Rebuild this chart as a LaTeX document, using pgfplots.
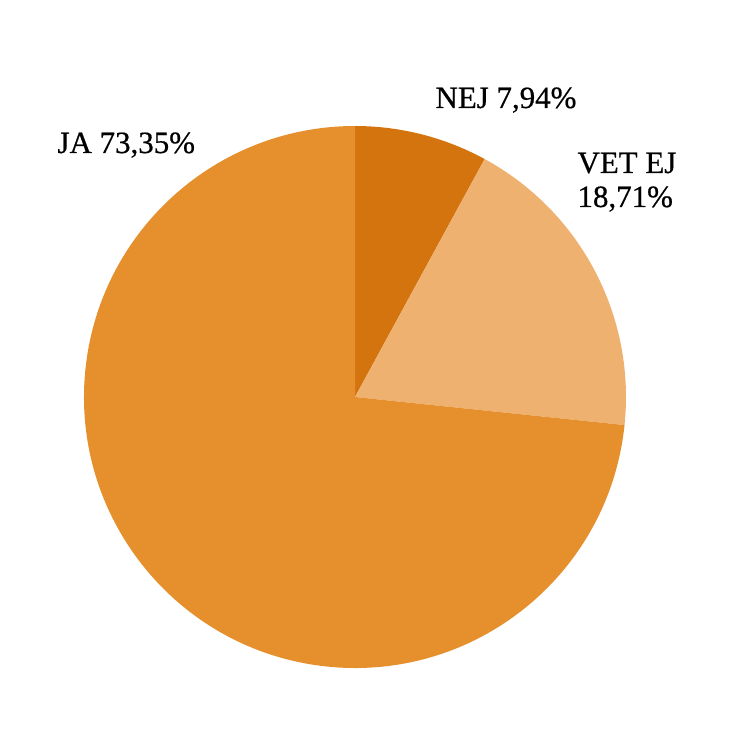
\documentclass[border=0pt]{standalone}
\usepackage{pgfplots}
\pgfplotsset{compat=1.18}
\usepackage{fontspec}
\setmainfont{Liberation Serif}
\newfontfamily\lblfont[FakeBold=0.6]{Liberation Serif}
\definecolor{cNej}{HTML}{D4740E}
\definecolor{cJa}{HTML}{E5902D}
\definecolor{cVet}{HTML}{EFB170}
\newcommand{\lbl}{\lblfont\fontsize{11.8}{14}\selectfont}
\begin{document}
\begin{tikzpicture}
% shares in percent
\pgfmathsetmacro{\vNej}{7.94}
\pgfmathsetmacro{\vVet}{18.71}
\pgfmathsetmacro{\vJa}{73.35}
\pgfmathsetmacro{\aA}{90}
\pgfmathsetmacro{\aB}{\aA-3.6*\vNej}
\pgfmathsetmacro{\aC}{\aB-3.6*\vVet}
\pgfmathsetmacro{\aD}{\aC-3.6*\vJa}
\def\R{3.6327cm}
\begin{axis}[width=10cm,height=10cm,scale only axis,
  xmin=0,xmax=746,ymin=0,ymax=746,hide axis,clip=false]
\path (rel axis cs:0,0) rectangle (rel axis cs:1,1);
\fill[cNej] (axis cs:355,349) -- ++(\aA:\R) arc[start angle=\aA,end angle=\aB,radius=\R] -- cycle;
\fill[cVet] (axis cs:355,349) -- ++(\aB:\R) arc[start angle=\aB,end angle=\aC,radius=\R] -- cycle;
\fill[cJa] (axis cs:355,349) -- ++(\aC:\R) arc[start angle=\aC,end angle=\aD,radius=\R] -- cycle;
\node[anchor=base west,font=\lbl,inner sep=0pt] at (axis cs:57,593) {JA 73,35\%};
\node[anchor=base west,font=\lbl,inner sep=0pt] at (axis cs:435,638) {NEJ 7,94\%};
\node[anchor=base west,font=\lbl,inner sep=0pt] at (axis cs:577,573) {VET EJ};
\node[anchor=base west,font=\lbl,inner sep=0pt] at (axis cs:577,539) {18,71\%};
\end{axis}
\end{tikzpicture}
\end{document}
